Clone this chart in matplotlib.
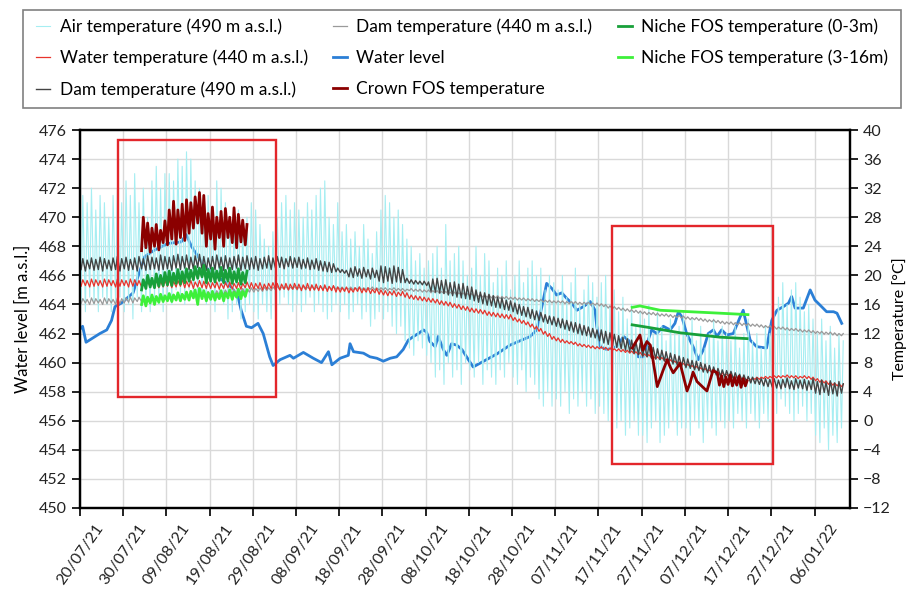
import numpy as np
import pandas as pd
import matplotlib
matplotlib.use('Agg')
import matplotlib.pyplot as plt
import matplotlib.dates as mdates
from matplotlib.patches import Rectangle

plt.rcParams['font.family'] = ['Lato', 'DejaVu Sans']

start = pd.Timestamp('2021-07-20')

# --- daily max / min, one value per day starting 20/07/21 (°C) ---
air_hi = [31, 30, 32, 29, 31, 30, 28, 31, 32, 30,
          33, 31, 34, 30, 32, 28, 33, 35, 32, 34,
          34, 33, 36, 35, 37, 36, 33, 32, 30, 31,
          29, 33, 32, 30, 28, 27, 29, 26, 28, 30,
          29, 27, 25, 24, 26, 28, 30, 31, 29, 30,
          29, 28, 30, 29, 31, 32, 33, 28, 27, 30,
          26, 27, 25, 26, 24, 27, 25, 23, 26, 29,
          31, 30, 28, 29, 27, 25, 24, 22, 23, 21,
          22, 23, 24, 21, 27, 22, 23, 24, 22, 20,
          21, 24, 20, 23, 22, 19, 21, 20, 22, 18,
          20, 22, 19, 21, 22, 20, 21, 18, 20, 19,
          18, 20, 17, 19, 21, 16, 18, 20, 19, 17,
          19, 20, 16, 18, 15, 17, 14, 16, 13, 15,
          14, 16, 12, 15, 13, 11, 14, 12, 13, 15,
          12, 14, 11, 13, 10, 12, 14, 11, 13, 12,
          11, 13, 10, 12, 14, 11, 12, 10, 13, 12,
          15, 17, 19, 16, 18, 19, 17, 15, 16, 14,
          12, 14, 11, 13, 10, 12, 11]
air_lo = [16, 15, 17, 16, 15, 17, 16, 15, 16, 17,
          15, 16, 14, 17, 15, 16, 15, 17, 16, 15,
          17, 16, 18, 17, 16, 18, 17, 16, 17, 16,
          16, 15, 17, 16, 14, 15, 16, 14, 15, 16,
          15, 14, 16, 15, 14, 15, 16, 17, 16, 15,
          16, 15, 16, 17, 15, 16, 15, 14, 15, 16,
          15, 16, 14, 15, 16, 14, 15, 13, 14, 15,
          14, 15, 13, 12, 13, 11, 10, 9, 11, 10,
          9, 8, 6, 7, 5, 8, 6, 7, 5, 8,
          7, 6, 8, 5, 7, 6, 5, 7, 6, 8,
          6, 5, 7, 4, 6, 5, 3, 2, 4, 2,
          3, 2, 4, 1, 3, 2, 4, 2, 3, 1,
          2, 1, 0, 1, -1, 0, -2, -1, 0, -2,
          -2, -3, -1, 0, -3, -2, -1, 0, -2, -1,
          -1, -2, 0, -1, -3, 0, -1, -2, 0, -1,
          0, -1, 1, 0, -1, 1, 0, -1, 1, 0,
          2, 1, 3, 2, 1, 0, 1, 2, 0, 1,
          -2, -3, -1, -4, -2, -3, -1]

water_hi = [19.4, 19.3, 19.5, 19.4, 19.3, 19.5, 19.4, 19.3, 19.5, 19.4,
            19.3, 19.5, 19.4, 19.3, 19.4, 19.2, 19.3, 19.4, 19.2, 19.3,
            19.4, 19.2, 19.3, 19.4, 19.2, 19.3, 19.1, 19.3, 19.2, 19.1,
            19.0, 19.1, 18.9, 19.0, 19.1, 18.9, 19.0, 18.9, 19.1, 19.0,
            18.9, 19.0, 18.8, 18.9, 19.0, 18.9, 18.8, 18.9, 18.8, 18.9,
            18.8, 18.7, 18.9, 18.7, 18.8, 18.6, 18.7, 18.5, 18.6, 18.4,
            18.3, 18.4, 18.2, 18.3, 18.4, 18.2, 18.3, 18.1, 18.2, 18.0,
            17.9, 17.8, 17.9, 17.7, 17.8, 17.6, 17.3, 17.2, 17.1, 17.0,
            16.9, 16.8, 16.7, 16.5, 16.4, 16.3, 16.1, 16.0, 15.8, 15.7,
            15.5, 15.4, 15.3, 15.2, 15.0, 14.9, 14.8, 14.7, 14.6, 14.6,
            14.2, 14.0, 13.8, 13.6, 13.3, 13.0, 12.7, 12.3, 12.0, 11.6,
            11.4, 11.2, 11.0, 10.9, 10.8, 10.6, 10.5, 10.4, 10.3, 10.2,
            10.2, 10.1, 10.0, 9.9, 9.9, 9.8, 9.7, 9.6, 9.5, 9.4,
            9.2, 9.1, 8.9, 8.8, 8.7, 8.5, 8.4, 8.2, 8.1, 7.9,
            7.8, 7.6, 7.5, 7.3, 7.2, 7.0, 6.9, 6.7, 6.6, 6.4,
            6.3, 6.1, 6.0, 5.9, 5.9, 5.9, 6.0, 6.0, 6.1, 6.1,
            6.2, 6.2, 6.2, 6.3, 6.2, 6.2, 6.1, 6.2, 6.1, 6.0,
            5.8, 5.6, 5.5, 5.3, 5.2, 5.1, 5.0]
water_lo = [18.5, 18.6, 18.4, 18.5, 18.6, 18.4, 18.5, 18.6, 18.4, 18.5,
            18.6, 18.4, 18.5, 18.6, 18.4, 18.5, 18.4, 18.5, 18.3, 18.4,
            18.5, 18.3, 18.4, 18.5, 18.3, 18.4, 18.2, 18.4, 18.3, 18.2,
            18.2, 18.3, 18.1, 18.2, 18.3, 18.1, 18.2, 18.1, 18.3, 18.2,
            18.1, 18.2, 18.0, 18.1, 18.2, 18.1, 18.0, 18.1, 18.0, 18.1,
            18.1, 17.9, 18.1, 17.9, 18.0, 17.9, 17.9, 17.8, 17.9, 17.7,
            17.7, 17.8, 17.6, 17.7, 17.8, 17.6, 17.7, 17.5, 17.6, 17.4,
            17.3, 17.2, 17.3, 17.1, 17.2, 17.0, 16.8, 16.7, 16.6, 16.5,
            16.4, 16.3, 16.2, 16.0, 15.9, 15.8, 15.6, 15.5, 15.3, 15.2,
            15.0, 14.9, 14.8, 14.7, 14.5, 14.4, 14.3, 14.2, 14.1, 14.0,
            13.8, 13.6, 13.4, 13.2, 12.9, 12.6, 12.3, 11.9, 11.6, 11.2,
            11.0, 10.8, 10.7, 10.6, 10.5, 10.3, 10.2, 10.1, 10.0, 9.9,
            9.9, 9.8, 9.7, 9.7, 9.6, 9.5, 9.4, 9.3, 9.2, 9.1,
            8.9, 8.8, 8.7, 8.5, 8.4, 8.3, 8.1, 8.0, 7.8, 7.7,
            7.5, 7.4, 7.2, 7.1, 6.9, 6.8, 6.6, 6.5, 6.3, 6.2,
            6.0, 5.9, 5.8, 5.7, 5.6, 5.6, 5.7, 5.7, 5.8, 5.8,
            5.9, 5.9, 5.9, 6.0, 5.9, 5.9, 5.8, 5.9, 5.8, 5.7,
            5.5, 5.3, 5.2, 5.0, 4.9, 4.8, 4.7]

dam490_hi = [22.3, 22.1, 22.4, 22.2, 22.5, 22.3, 22.1, 22.4, 22.6, 22.3,
             22.5, 22.2, 22.4, 22.6, 22.3, 22.7, 22.5, 22.4, 22.8, 22.6,
             22.5, 22.7, 22.9, 22.6, 22.8, 22.5, 22.7, 22.9, 22.6, 22.4,
             22.6, 22.8, 22.5, 22.7, 22.4, 22.6, 22.8, 22.5, 22.7, 22.4,
             22.6, 22.3, 22.5, 22.7, 22.4, 22.6, 22.5, 22.3, 22.6, 22.4,
             22.5, 22.2, 22.4, 22.1, 22.3, 22.0, 21.9, 21.8, 21.6, 21.0,
             20.8, 20.7, 21.0, 21.2, 20.9, 21.1, 20.8, 21.0, 20.7, 21.3,
             21.2, 21.0, 21.3, 21.1, 20.8, 19.6, 19.4, 19.3, 19.2, 19.2,
             19.1, 19.5, 19.6, 19.3, 19.4, 19.0, 19.1, 18.8, 18.9, 18.5,
             18.4, 18.0, 17.7, 17.6, 17.4, 17.2, 17.0, 16.9, 16.6, 16.5,
             16.2, 16.0, 15.7, 15.6, 15.3, 15.1, 14.9, 14.6, 14.4, 14.3,
             14.1, 14.0, 13.8, 13.6, 13.5, 13.3, 13.1, 12.9, 12.7, 12.5,
             12.5, 12.3, 12.1, 11.9, 11.7, 11.5, 11.3, 11.1, 10.9, 10.7,
             10.5, 10.3, 10.1, 9.9, 9.7, 9.5, 9.3, 9.1, 8.9, 8.7,
             8.5, 8.3, 8.2, 8.0, 7.8, 7.6, 7.4, 7.2, 7.0, 6.9,
             6.8, 6.6, 6.4, 6.3, 6.1, 6.0, 5.9, 5.8, 5.8, 5.7,
             5.8, 5.6, 5.7, 5.9, 5.5, 5.8, 5.6, 5.7, 5.5, 5.8,
             5.4, 5.6, 5.3, 5.5, 5.2, 5.4, 5.1]
dam490_lo = [20.8, 20.6, 20.9, 20.7, 20.8, 20.6, 20.9, 20.7, 20.8, 20.6,
             20.9, 20.7, 20.8, 20.6, 20.9, 20.7, 20.8, 20.9, 20.7, 20.8,
             20.9, 20.7, 21.0, 20.8, 21.0, 20.8, 20.9, 21.1, 20.8, 20.7,
             20.9, 20.8, 21.0, 20.7, 20.9, 20.8, 21.0, 20.7, 20.9, 20.8,
             20.9, 20.7, 20.9, 21.0, 20.8, 21.0, 21.1, 20.9, 21.2, 21.0,
             21.1, 20.9, 21.0, 20.8, 20.9, 20.7, 20.6, 20.5, 20.4, 20.5,
             20.4, 20.3, 19.8, 19.7, 19.9, 19.6, 19.8, 19.5, 19.7, 19.2,
             19.0, 19.2, 18.9, 19.1, 19.0, 19.0, 18.9, 18.8, 18.8, 18.7,
             18.6, 17.8, 17.7, 17.6, 17.5, 17.3, 17.2, 17.0, 16.9, 16.8,
             16.7, 16.5, 16.3, 16.1, 15.9, 15.8, 15.6, 15.5, 15.3, 15.2,
             15.0, 14.7, 14.5, 14.3, 14.1, 13.9, 13.8, 13.6, 13.4, 13.2,
             13.0, 12.8, 12.6, 12.4, 12.2, 12.0, 11.8, 11.7, 11.5, 11.4,
             11.0, 10.7, 10.5, 10.3, 10.1, 9.9, 9.7, 9.5, 9.3, 9.1,
             8.9, 8.8, 8.6, 8.5, 8.4, 8.2, 8.0, 7.8, 7.6, 7.5,
             7.3, 7.2, 7.0, 6.9, 6.7, 6.6, 6.4, 6.3, 6.1, 6.0,
             5.9, 5.7, 5.6, 5.5, 5.3, 5.2, 5.1, 5.0, 4.8, 4.7,
             4.6, 4.5, 4.4, 4.6, 4.4, 4.3, 4.5, 4.4, 4.2, 4.3,
             3.8, 3.6, 3.9, 3.5, 3.7, 3.4, 3.8]

dam440_hi = [16.8, 16.7, 16.9, 16.8, 16.7, 16.9, 16.8, 16.7, 16.9, 16.8,
             16.9, 17.0, 16.9, 17.0, 17.1, 17.0, 17.2, 17.1, 17.3, 17.2,
             17.3, 17.4, 17.3, 17.5, 17.4, 17.6, 17.5, 17.7, 17.6, 17.8,
             17.7, 17.9, 17.8, 18.0, 17.9, 18.1, 18.0, 18.2, 18.1, 18.3,
             18.2, 18.3, 18.4, 18.3, 18.4, 18.5, 18.4, 18.5, 18.4, 18.5,
             18.4, 18.5, 18.4, 18.5, 18.4, 18.5, 18.4, 18.4, 18.5, 18.4,
             18.4, 18.3, 18.4, 18.3, 18.4, 18.3, 18.3, 18.4, 18.3, 18.3,
             18.3, 18.2, 18.3, 18.2, 18.2, 18.1, 18.2, 18.1, 18.1, 18.0,
             18.0, 17.9, 17.9, 17.8, 17.8, 17.7, 17.7, 17.6, 17.6, 17.5,
             17.5, 17.4, 17.4, 17.3, 17.3, 17.2, 17.2, 17.1, 17.1, 17.0,
             17.0, 16.9, 16.9, 16.8, 16.8, 16.7, 16.7, 16.6, 16.6, 16.5,
             16.5, 16.5, 16.4, 16.4, 16.4, 16.3, 16.3, 16.3, 16.2, 16.2,
             16.1, 16.0, 15.8, 15.7, 15.6, 15.5, 15.4, 15.3, 15.2, 15.1,
             15.0, 14.9, 14.9, 14.8, 14.7, 14.7, 14.6, 14.5, 14.5, 14.4,
             14.3, 14.2, 14.2, 14.1, 14.0, 13.9, 13.9, 13.8, 13.7, 13.6,
             13.6, 13.5, 13.5, 13.4, 13.4, 13.3, 13.3, 13.2, 13.1, 13.1,
             13.0, 12.9, 12.9, 12.8, 12.7, 12.7, 12.6, 12.5, 12.5, 12.4,
             12.3, 12.3, 12.2, 12.2, 12.1, 12.0, 12.0]
dam440_lo = [16.1, 16.2, 16.0, 16.1, 16.2, 16.0, 16.1, 16.2, 16.0, 16.1,
             16.2, 16.3, 16.2, 16.4, 16.4, 16.5, 16.5, 16.6, 16.6, 16.7,
             16.7, 16.8, 16.8, 16.9, 16.9, 17.0, 17.0, 17.1, 17.1, 17.2,
             17.2, 17.3, 17.3, 17.4, 17.4, 17.5, 17.5, 17.6, 17.6, 17.7,
             17.7, 17.8, 17.8, 17.9, 17.9, 18.0, 18.0, 18.1, 18.0, 18.1,
             18.0, 18.1, 18.0, 18.1, 18.0, 18.1, 18.1, 18.0, 18.1, 18.1,
             18.1, 18.0, 18.1, 18.0, 18.1, 18.0, 18.0, 18.1, 18.0, 18.0,
             18.0, 17.9, 18.0, 17.9, 17.9, 17.8, 17.9, 17.8, 17.8, 17.7,
             17.7, 17.6, 17.6, 17.5, 17.5, 17.4, 17.4, 17.3, 17.3, 17.2,
             17.2, 17.1, 17.1, 17.0, 17.0, 16.9, 16.9, 16.8, 16.8, 16.7,
             16.7, 16.6, 16.6, 16.5, 16.5, 16.4, 16.4, 16.3, 16.3, 16.2,
             16.2, 16.2, 16.1, 16.1, 16.1, 16.0, 16.0, 16.0, 15.9, 15.9,
             15.8, 15.7, 15.5, 15.4, 15.3, 15.2, 15.1, 15.0, 14.9, 14.8,
             14.7, 14.6, 14.6, 14.5, 14.4, 14.4, 14.3, 14.2, 14.2, 14.1,
             14.0, 13.9, 13.9, 13.8, 13.7, 13.6, 13.6, 13.5, 13.4, 13.3,
             13.3, 13.2, 13.2, 13.1, 13.1, 13.0, 13.0, 12.9, 12.8, 12.8,
             12.7, 12.6, 12.6, 12.5, 12.4, 12.4, 12.3, 12.2, 12.2, 12.1,
             12.0, 12.0, 11.9, 11.9, 11.8, 11.7, 11.7]

# FOS campaigns in August (daily max / min, from 03/08/21)
fos_aug_day0 = 14
crown_hi = [28.0, 27.2, 26.5, 27.0, 26.2, 27.5, 29.0, 30.2, 29.0, 29.8, 30.4, 30.0, 30.8,
            31.4, 31.0, 28.5, 29.4, 28.0, 28.8, 29.2, 28.0, 29.3, 28.4, 27.6, 27.0]
crown_lo = [23.4, 23.8, 23.2, 24.0, 23.5, 24.5, 24.2, 25.0, 24.3, 25.2, 24.8, 25.8, 26.5,
            27.2, 25.8, 24.0, 25.0, 23.6, 25.2, 24.0, 25.2, 24.5, 23.8, 24.6, 24.2]
niche03_hi = [19.4, 20.0, 19.6, 20.2, 20.0, 20.4, 20.6, 20.3, 20.8, 20.5, 20.9, 20.7, 21.2,
              21.0, 21.4, 20.8, 21.0, 20.6, 21.1, 20.7, 21.0, 20.5, 20.9, 20.4, 20.6]
niche03_lo = [18.0, 18.2, 18.4, 18.3, 18.5, 18.6, 18.7, 18.6, 18.9, 18.8, 19.0, 19.2, 19.4,
              19.6, 19.8, 19.0, 19.2, 19.1, 19.3, 19.0, 19.2, 18.9, 19.1, 18.8, 19.0]
niche316_hi = [17.2, 17.0, 17.3, 17.1, 17.4, 17.2, 17.5, 17.3, 17.6, 17.4, 17.7, 17.8, 18.0,
               18.2, 17.9, 17.6, 17.8, 17.5, 17.9, 17.6, 18.0, 17.7, 18.1, 17.8, 18.0]
niche316_lo = [16.0, 15.8, 16.2, 16.0, 16.3, 16.4, 16.5, 16.4, 16.6, 16.5, 16.7, 16.6, 16.9,
               16.0, 16.8, 16.5, 16.7, 16.6, 16.8, 16.5, 16.9, 16.7, 17.0, 16.8, 17.1]

# FOS campaigns in Nov-Dec (days after 20/07/21, °C)
crown_dec_day = [127.8, 129.6, 130.3, 131.2, 132.0, 132.6, 133.6, 135.0, 135.9, 136.6,
                 137.3, 138.9, 140.5, 141.2, 141.9, 142.8, 144.2, 145.1, 146.5, 147.5,
                 148.0, 148.5, 149.0, 149.5, 150.0, 150.5, 151.0, 151.5, 152.0, 152.5,
                 153.0, 153.5, 154.0, 154.4]
crown_dec_t = [10.0, 11.8, 9.7, 10.9, 10.4, 8.4, 4.7, 7.0, 8.4, 7.4,
               6.6, 7.9, 4.1, 5.2, 6.7, 5.4, 4.6, 4.1, 6.9, 6.6,
               4.9, 6.2, 4.7, 6.0, 5.0, 6.3, 4.8, 5.9, 4.9, 6.1,
               4.6, 5.8, 4.8, 5.5]
niche03_dec_day = [127.8, 132.0, 138.9, 143.5, 148.1, 154.4]
niche03_dec_t = [13.2, 12.8, 12.1, 11.8, 11.5, 11.3]
niche316_dec_day = [127.8, 129.6, 134.3, 141.2, 148.1, 154.6]
niche316_dec_t = [15.6, 15.8, 15.2, 15.0, 14.8, 14.6]

# water level (days after 20/07/21, m a.s.l.)
level_day = [0.0, 0.6, 1.4, 4.6, 6.2, 7.3, 8.1, 9.6, 12.3, 13.4, 14.2, 15.0, 17.3, 20.4,
             23.4, 24.6, 25.8, 27.3, 28.9, 31.9, 35.0, 36.6, 37.3, 38.5, 39.7, 41.2,
             42.4, 43.9, 44.7, 46.3, 48.6, 49.4, 51.7, 54.0, 55.9, 57.5, 58.3, 60.2,
             62.1, 62.5, 63.3, 65.6, 67.1, 68.7, 70.2, 71.8, 73.3, 74.8, 76.0, 77.2,
             78.3, 79.5, 80.2, 81.0, 82.2, 82.9, 84.1, 84.9, 86.0, 87.2, 88.4, 89.9,
             91.0, 96.5, 99.5, 104.2, 105.7, 106.9, 108.0, 109.2, 110.3, 111.5, 112.7,
             113.8, 115.0, 116.5, 118.1, 119.2, 119.6, 120.4, 121.9, 124.2, 125.8,
             126.9, 128.1, 129.2, 130.4, 131.5, 132.3, 133.5, 135.0, 136.6, 137.7,
             138.5, 139.3, 140.4, 141.9, 143.1, 144.3, 145.4, 146.6, 147.4, 148.5,
             149.7, 151.2, 152.8, 153.5, 154.2, 155.1, 156.6, 158.9, 160.1, 161.3,
             162.8, 164.0, 164.7, 165.5, 167.4, 169.0, 170.1, 171.3, 172.8, 174.4,
             175.2, 176.3]
level = [462.3, 462.5, 461.4, 462.0, 462.25, 462.9, 463.85, 464.1, 464.8, 465.9, 466.6,
         467.3, 467.75, 468.2, 468.3, 468.8, 468.0, 467.3, 466.6, 465.9, 465.2, 464.5,
         463.6, 462.5, 462.4, 462.7, 462.0, 460.4, 459.8, 460.2, 460.5, 460.3, 460.7,
         460.3, 460.0, 460.75, 459.85, 460.3, 460.5, 461.3, 460.75, 460.65, 460.4,
         460.3, 460.1, 460.3, 460.4, 460.9, 461.55, 461.8, 462.0, 462.25, 462.1,
         461.45, 461.1, 461.8, 460.9, 460.5, 461.3, 461.2, 460.9, 460.2, 459.7, 460.6,
         461.2, 461.8, 462.25, 463.85, 465.45, 465.1, 464.65, 464.8, 464.4, 464.1,
         463.6, 463.85, 464.2, 463.6, 462.5, 461.1, 460.9, 461.1, 461.8, 461.55,
         460.9, 460.4, 460.4, 461.55, 462.25, 462.0, 462.5, 462.25, 462.7, 463.5,
         463.15, 462.0, 461.1, 460.2, 460.9, 462.0, 462.25, 461.8, 462.25, 461.9,
         462.0, 463.15, 463.6, 462.7, 461.55, 461.1, 461.0, 462.9, 463.6, 463.85,
         464.1, 464.55, 463.75, 463.75, 465.0, 464.3, 463.95, 463.5, 463.5, 463.4,
         462.7]

# highlighted periods: (first date, last date, low level, high level)
boxes = [('2021-07-28 19:00', '2021-09-03 10:00', 457.64, 475.31),
         ('2021-11-20 02:00', '2021-12-27 12:00', 453.03, 469.4)]


def to_dates(days):
    return start + pd.to_timedelta(np.asarray(days, dtype=float), unit='D')


def daily(lo, hi, day0=0):
    # low in the early morning, high in the afternoon
    t, v = [], []
    for i in range(len(lo)):
        t += [day0 + i + 0.25, day0 + i + 0.65]
        v += [lo[i], hi[i]]
    return to_dates(t), v


fig = plt.figure(figsize=(9.08, 5.92), dpi=100)
ax = fig.add_axes([0.0881, 0.1419, 0.8480, 0.6385])
ax2 = ax.twinx()

ax.set_zorder(1)
ax2.set_zorder(2)
ax2.patch.set_visible(False)

# water level on the primary axis
wl, = ax.plot(to_dates(level_day), level, color='#2b7fd6', lw=2.0, label='Water level')

# temperatures on the secondary axis
t, v = daily(air_lo, air_hi)
air, = ax2.plot(t, v, color='#a6eef2', lw=0.8, label='Air temperature (490 m a.s.l.)')
t, v = daily(dam440_lo, dam440_hi)
d440, = ax2.plot(t, v, color='#9a9a9a', lw=0.9, label='Dam temperature (440 m a.s.l.)')
t, v = daily(water_lo, water_hi)
wt, = ax2.plot(t, v, color='#e8342c', lw=0.9, label='Water temperature (440 m a.s.l.)')
t, v = daily(dam490_lo, dam490_hi)
d490, = ax2.plot(t, v, color='#444444', lw=1.0, label='Dam temperature (490 m a.s.l.)')

t, v = daily(crown_lo, crown_hi, fos_aug_day0)
crown, = ax2.plot(t, v, color='#8b0000', lw=2.0, label='Crown FOS temperature')
ax2.plot(to_dates(crown_dec_day), crown_dec_t, color='#8b0000', lw=2.0)
t, v = daily(niche03_lo, niche03_hi, fos_aug_day0)
n03, = ax2.plot(t, v, color='#18a03a', lw=2.0, label='Niche FOS temperature (0-3m)')
ax2.plot(to_dates(niche03_dec_day), niche03_dec_t, color='#18a03a', lw=2.0)
t, v = daily(niche316_lo, niche316_hi, fos_aug_day0)
n316, = ax2.plot(t, v, color='#3df03a', lw=2.0, label='Niche FOS temperature (3-16m)')
ax2.plot(to_dates(niche316_dec_day), niche316_dec_t, color='#3df03a', lw=2.0)

for b in boxes:
    x0 = mdates.date2num(pd.Timestamp(b[0]))
    x1 = mdates.date2num(pd.Timestamp(b[1]))
    ax2.add_patch(Rectangle((x0, b[2]), x1 - x0, b[3] - b[2], transform=ax.transData,
                            fill=False, edgecolor='#e3262b', lw=1.7, zorder=10))

ax.set_xlim(start, pd.Timestamp('2022-01-14 05:00'))
ax.set_ylim(450, 476)
ax2.set_ylim(-12, 40)
ax.set_yticks(np.arange(450, 477, 2))
ax2.set_yticks(np.arange(-12, 41, 4))
ax.set_xticks(pd.date_range(start, '2022-01-06', freq='10D'))
ax.xaxis.set_major_formatter(mdates.DateFormatter('%d/%m/%y'))
plt.setp(ax.get_xticklabels(), rotation=55, ha='center', va='top')

ax.grid(True, color='#d9d9d9', lw=1.0)
ax.set_axisbelow(True)
for a in (ax, ax2):
    for s in a.spines.values():
        s.set_linewidth(1.6)
        s.set_color('black')
    a.tick_params(direction='out', length=6, width=1.4, labelsize=11.5, colors='#222222')

ax.set_ylabel('Water level [m a.s.l.]', fontsize=12, labelpad=6)
ax2.set_ylabel('Temperature [°C]', fontsize=11.5, labelpad=1)

# legend box at the top of the figure
fig.patches.append(Rectangle((0.0253, 0.8176), 0.967, 0.1655, transform=fig.transFigure,
                             fill=False, edgecolor='#808080', lw=1.2))
handles = [air, wt, d490, d440, wl, crown, n03, n316]
leg = fig.legend(handles=handles, loc='upper left', bbox_to_anchor=(0.040, 0.969),
                 ncol=3, fontsize=12.5, frameon=False, borderpad=0, borderaxespad=0,
                 handlelength=0.8, handletextpad=0.55, columnspacing=1.45, labelspacing=0.86)

fig.savefig('out.png', dpi=100)
